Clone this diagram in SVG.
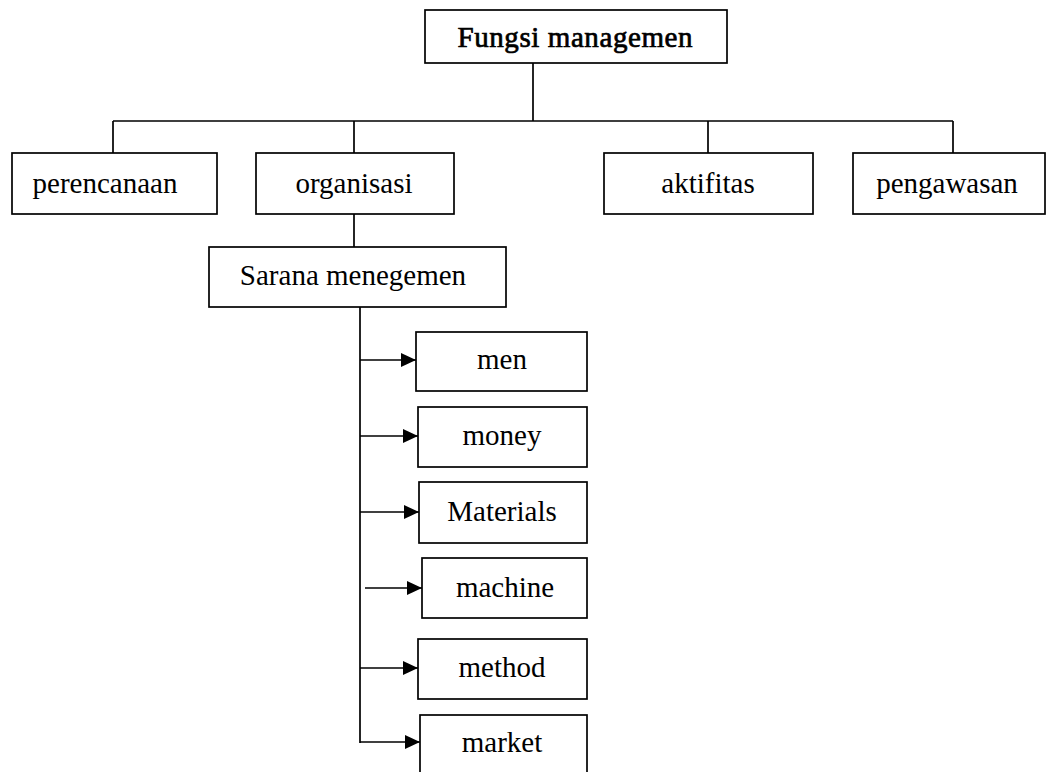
<svg xmlns="http://www.w3.org/2000/svg" width="1046" height="772" viewBox="0 0 1046 772">
<style>
.box{fill:#fff;stroke:#000;stroke-width:1.7}
.ln{fill:none;stroke:#000;stroke-width:1.7}
.t{font-family:"Liberation Serif","Times New Roman",serif;font-size:29px;fill:#000;text-anchor:middle}
.h{stroke:#000;stroke-width:0.7}
</style>
<defs>
<marker id="arr" markerUnits="userSpaceOnUse" markerWidth="16" markerHeight="16" refX="15" refY="7" orient="auto">
<path d="M0,0 L15,7 L0,14 Z" fill="#000"/>
</marker>
</defs>
<rect width="1046" height="772" fill="#fff"/>
<g id="connectors">
<path class="ln" d="M533,63 V121 M113,121 H953 M113,121 V153 M354,121 V153 M708,121 V153 M953,121 V153 M354,214 V247 M360,307 V743"/>
<path class="ln" d="M360,360 H416" marker-end="url(#arr)"/>
<path class="ln" d="M360,436 H418" marker-end="url(#arr)"/>
<path class="ln" d="M360,512 H419" marker-end="url(#arr)"/>
<path class="ln" d="M365,588 H422" marker-end="url(#arr)"/>
<path class="ln" d="M360,668 H418" marker-end="url(#arr)"/>
<path class="ln" d="M360,742 H420" marker-end="url(#arr)"/>
</g>
<g id="fungsi"><rect class="box" x="425" y="10" width="302" height="53"/><text class="t h" x="575" y="47" textLength="235" lengthAdjust="spacing">Fungsi managemen</text></g>
<g id="perencanaan"><rect class="box" x="12" y="153" width="205" height="61"/><text class="t" x="105" y="193">perencanaan</text></g>
<g id="organisasi"><rect class="box" x="256" y="153" width="198" height="61"/><text class="t" x="354" y="193">organisasi</text></g>
<g id="aktifitas"><rect class="box" x="604" y="153" width="209" height="61"/><text class="t" x="708" y="193">aktifitas</text></g>
<g id="pengawasan"><rect class="box" x="853" y="153" width="192" height="61"/><text class="t" x="947" y="193">pengawasan</text></g>
<g id="sarana"><rect class="box" x="209" y="247" width="297" height="60"/><text class="t" x="353" y="285">Sarana menegemen</text></g>
<g id="men"><rect class="box" x="416" y="332" width="171" height="59"/><text class="t" x="502" y="369">men</text></g>
<g id="money"><rect class="box" x="418" y="407" width="169" height="60"/><text class="t" x="502" y="445">money</text></g>
<g id="materials"><rect class="box" x="419" y="482" width="168" height="61"/><text class="t" x="502" y="521">Materials</text></g>
<g id="machine"><rect class="box" x="422" y="558" width="165" height="60"/><text class="t" x="505" y="597">machine</text></g>
<g id="method"><rect class="box" x="418" y="639" width="169" height="60"/><text class="t" x="502" y="677">method</text></g>
<g id="market"><rect class="box" x="420" y="715" width="167" height="70"/><text class="t" x="502" y="752">market</text></g>
</svg>
